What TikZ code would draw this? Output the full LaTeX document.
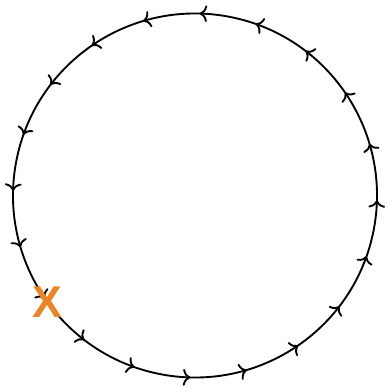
\documentclass[tikz,border=0pt]{standalone}
\usepackage{fontspec}
\setsansfont{Liberation Sans}
\usetikzlibrary{arrows.meta,decorations.markings}
\definecolor{startorange}{RGB}{234,132,36}

\begin{document}
\begin{tikzpicture}[
        x=0.03cm, y=0.03cm,
        loop/.style={line width=1.6pt, postaction={decorate}, decoration={markings,
            mark=between positions 0.025 and 0.99 step 0.05 with {\arrow{Computer Modern Rightarrow[length=0.22cm, width=0.5cm]}}}},
        startlbl/.style={font=\sffamily\bfseries\fontsize{38}{38}\selectfont, text=startorange, inner sep=0pt},
    ]

    % frame of the reference picture
    \useasboundingbox (-195,-191.5) rectangle (191,195.5);

    % ----- closed walk -----
    \coordinate (c) at (0,0);
    \draw[loop] ([shift={(-10.5:182)}]c) arc[start angle=-10.5, delta angle=360, radius=182];

    % ----- start point -----
    \node[startlbl] (start) at ([shift={(-148,-106.5)}]c) {X};

\end{tikzpicture}
\end{document}
